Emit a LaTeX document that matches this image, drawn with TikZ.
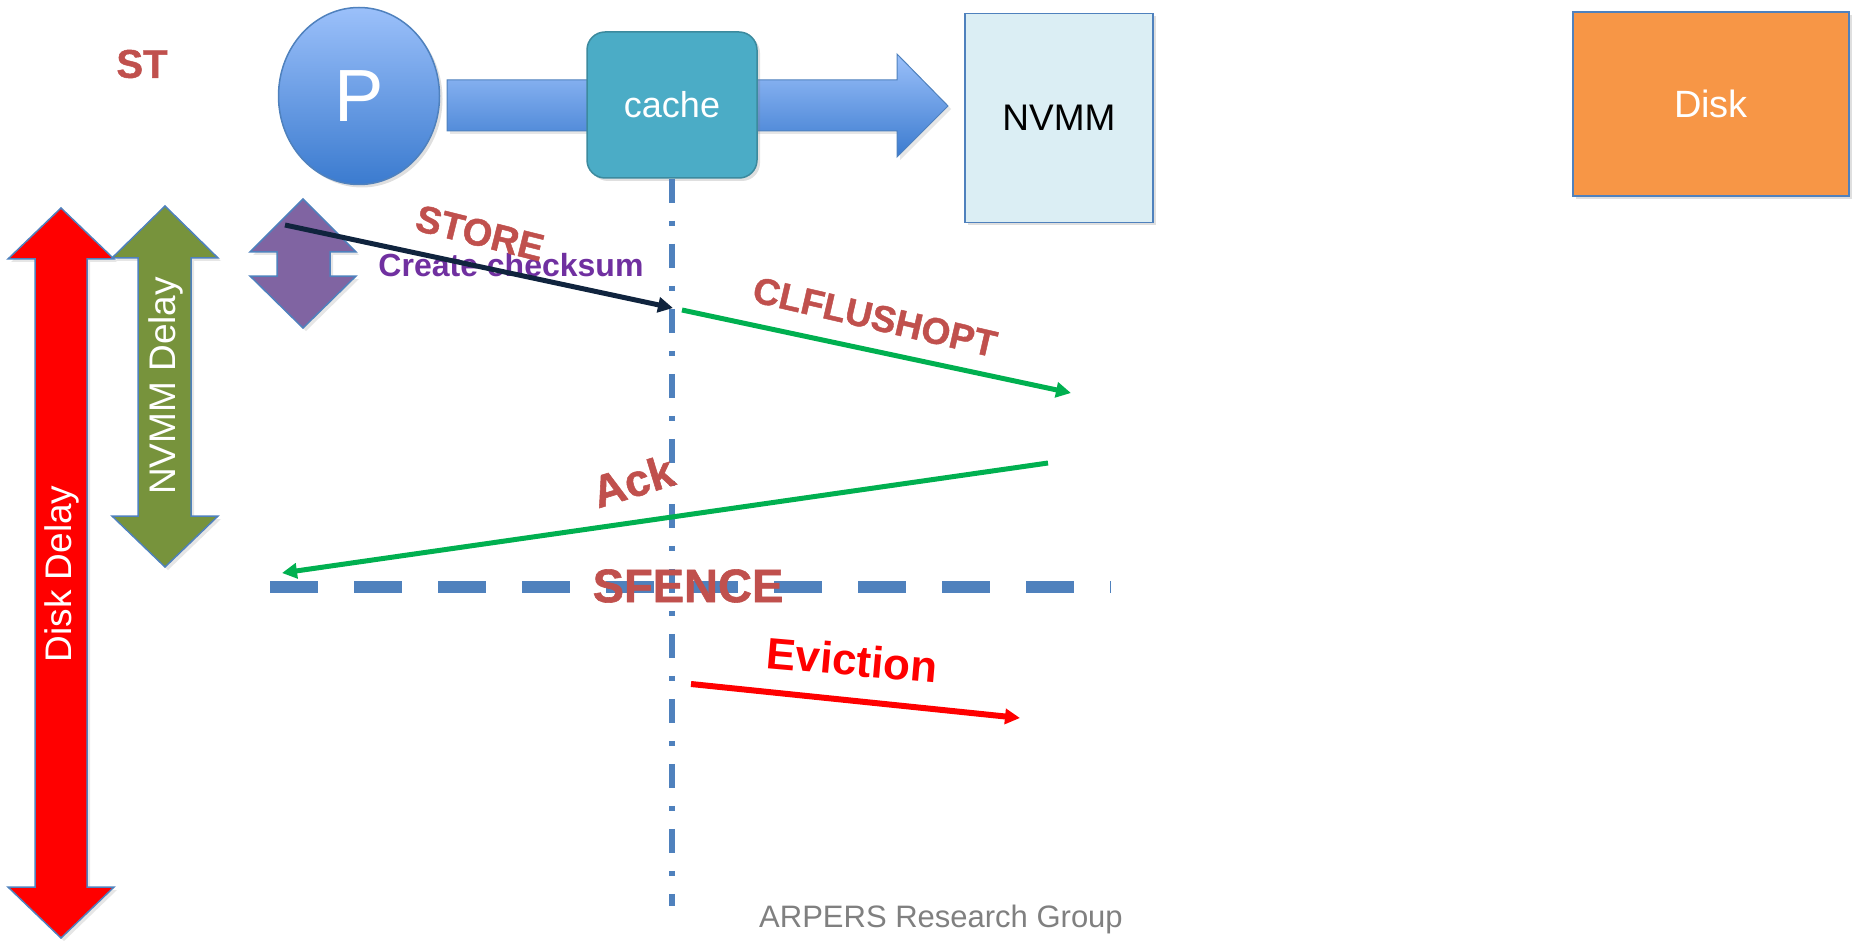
\documentclass[tikz,border=0pt]{standalone}
\usepackage{fontspec}
\setmainfont{Liberation Sans}
\newfontfamily\wordartfont[FakeBold=1.2]{Liberation Sans Bold}
\usetikzlibrary{arrows.meta,shapes.geometric,shadows}

\definecolor{boxline}{HTML}{4F81BD}
\definecolor{ptop}{HTML}{9BC0FA}
\definecolor{pbottom}{HTML}{3B7BCF}
\definecolor{cachefill}{HTML}{4BACC6}
\definecolor{nvmmfill}{HTML}{DBEEF4}
\definecolor{diskfill}{HTML}{F79646}
\definecolor{nvmmgreen}{HTML}{77933C}
\definecolor{chkpurple}{HTML}{8064A2}
\definecolor{wordred}{HTML}{C0504D}
\definecolor{storeblue}{HTML}{10243E}
\definecolor{msggreen}{HTML}{00B050}
\definecolor{txtpurple}{HTML}{7030A0}

\begin{document}
\begin{tikzpicture}[x=1pt,y=-1pt,
box/.style = {draw=boxline, line width=1.5pt, inner sep=0pt,
  drop shadow={opacity=.25,shadow xshift=3pt,shadow yshift=-3pt}},
blockarrow/.style = {draw=boxline, line width=1.5pt,
  drop shadow={opacity=.2,shadow xshift=3pt,shadow yshift=-3pt}},
wordart/.style = {text=wordred, font=\wordartfont\fontsize{#1}{#1}\selectfont},
plain/.style = {font=\fontsize{#1}{#1}\selectfont},
msg/.style = {line width=5pt, -{Triangle[length=15pt,width=15pt]}},
life/.style = {draw=boxline, line width=6pt,
  dash pattern=on 24pt off 18pt on 5pt off 18pt}]
\useasboundingbox (0,0) rectangle (1854,941);

% top row
\draw[blockarrow, top color=ptop, bottom color=pbottom, line width=1pt]
  (447,80) -- (897,80) -- (897,54) -- (948,106) -- (897,157)
  -- (897,131) -- (447,131) -- cycle;
\node[ellipse, box, minimum width=161pt, minimum height=177pt,
  top color=ptop, bottom color=pbottom, text=white, plain=74] (p) at (359,96) {P};
\node[box, rounded corners=18pt, fill=cachefill, draw=cachefill!80!black,
  minimum width=170pt, minimum height=146pt, text=white, plain=36] (cache) at (672,105) {cache};
\node[box, fill=nvmmfill, minimum width=188pt, minimum height=209pt, plain=37] (nvmm) at (1059,118) {NVMM};
\node[box, fill=diskfill, minimum width=276pt, minimum height=184pt, text=white, plain=38] (disk) at (1711,104) {Disk};
\node[wordart=40] (st) at (142,64) {ST};

% delays
\draw[blockarrow, fill=red] (61,208) -- (114,259) -- (87,259) -- (87,887) -- (114,887)
  -- (61,938) -- (8,887) -- (35,887) -- (35,259) -- (8,259) -- cycle;
\draw[blockarrow, fill=nvmmgreen] (165,206) -- (218,258) -- (191,258) -- (191,516) -- (218,516)
  -- (165,567) -- (112,516) -- (138,516) -- (138,258) -- (112,258) -- cycle;
\draw[blockarrow, fill=chkpurple] (303,199) -- (356,252) -- (330,252) -- (330,276) -- (356,276)
  -- (303,328) -- (250,276) -- (277,276) -- (277,252) -- (250,252) -- cycle;
\node[rotate=90, text=white, plain=37] (diskdelay) at (62,574) {Disk Delay};
\node[rotate=90, text=white, plain=37] (nvmmdelay) at (166,386) {NVMM Delay};

% lifeline and fence
\coordinate (lifeend) at (672,906);
\draw[life] (cache.south) -- (lifeend);
\coordinate (fenceL) at (270,587);
\coordinate (fenceR) at (1111,587);
\draw[boxline, line width=12pt, dash pattern=on 48pt off 36pt] (fenceL) -- (fenceR);

% messages
\node[text=txtpurple, font=\bfseries\fontsize{32}{32}\selectfont] (chk) at (511,265) {Create checksum};
\coordinate (storeA) at (285,225);
\coordinate (storeB) at (673,308);
\draw[msg, storeblue] (storeA) -- (storeB);
\node[wordart=38, rotate=-14] (storelbl) at (480,233) {STORE};

\coordinate (flushA) at (682,310);
\coordinate (flushB) at (1071,393);
\draw[msg, msggreen] (flushA) -- (flushB);
\node[wordart=37, rotate=-13] (flushlbl) at (875,317) {CLFLUSHOPT};

\coordinate (ackA) at (1048,463);
\coordinate (ackB) at (282,573);
\draw[msg, msggreen] (ackA) -- (ackB);
\node[wordart=45, rotate=17] (acklbl) at (633,481) {Ack};

\node[wordart=47] (fencelbl) at (688,586) {SFENCE};

\coordinate (evictA) at (691,684);
\coordinate (evictB) at (1020,718);
\draw[msg, red, line width=6pt] (evictA) -- (evictB);
\node[text=red, font=\bfseries\fontsize{44}{44}\selectfont, rotate=-5] (evictlbl) at (852,660) {Eviction};

\node[text=gray, plain=31] (group) at (941,919) {ARPERS Research Group};
\end{tikzpicture}
\end{document}
